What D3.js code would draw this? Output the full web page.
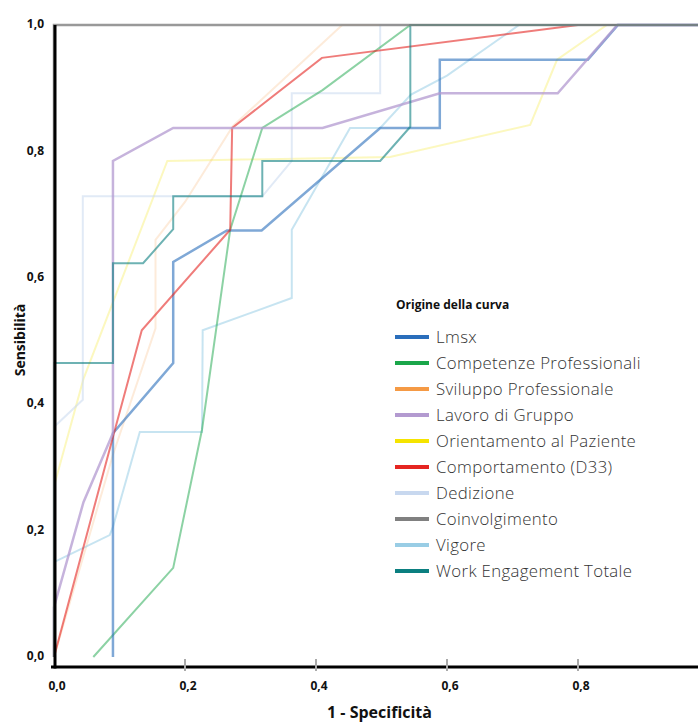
<!DOCTYPE html>
<html>
<head>
<meta charset="utf-8">
<script src="https://d3js.org/d3.v7.min.js"></script>
<style>
  body { margin: 0; background: #fff; }
  svg { display: block; font-family: 'Open Sans', 'Noto Sans', sans-serif; }
  .tick-label { font-size: 12px; font-weight: 700; fill: #111; }
  .axis-title { font-weight: 700; fill: #111; }
  .legend-title { font-size: 12px; font-weight: 700; fill: #111; }
  .legend-item { font-size: 16.8px; font-weight: 300; fill: #333; letter-spacing: 0.35px; }
</style>
</head>
<body>
<div id="chart"></div>
<script>
// curve names, in legend order
const seriesNames = [
  'Lmsx',
  'Competenze Professionali',
  'Sviluppo Professionale',
  'Lavoro di Gruppo',
  'Orientamento al Paziente',
  'Comportamento (D33)',
  'Dedizione',
  'Coinvolgimento',
  'Vigore',
  'Work Engagement Totale'
]
const seriesColors = ['#2a6ebb', '#1aa64a', '#f59a45', '#b39ad0', '#f5e400', '#e52521', '#c8d8ef', '#808080', '#99cde5', '#0b7f80']

// [1 - specificita, sensibilita] points
const lmsx = [[0.09, 0], [0.09, 0.354], [0.182, 0.465], [0.182, 0.625], [0.264, 0.675], [0.317, 0.675], [0.498, 0.837], [0.589, 0.837], [0.589, 0.945], [0.815, 0.945], [0.861, 1], [1, 1]]
const competenze = [[0.06, 0], [0.182, 0.141], [0.226, 0.36], [0.269, 0.676], [0.318, 0.837], [0.41, 0.897], [0.544, 1], [1, 1]]
const sviluppo = [[0, 0], [0.09, 0.32], [0.155, 0.52], [0.155, 0.66], [0.2, 0.72], [0.273, 0.84], [0.44, 1], [1, 1]]
const lavoro = [[0, 0], [0, 0.079], [0.045, 0.245], [0.09, 0.354], [0.09, 0.785], [0.182, 0.837], [0.41, 0.837], [0.589, 0.892], [0.769, 0.892], [0.86, 1], [1, 1]]
const orientamento = [[0, 0], [0, 0.27], [0.045, 0.44], [0.173, 0.785], [0.513, 0.791], [0.727, 0.842], [0.768, 0.945], [0.844, 1], [1, 1]]
const comportamento = [[0, 0], [0.09, 0.348], [0.134, 0.517], [0.269, 0.676], [0.272, 0.837], [0.409, 0.948], [0.8, 1], [1, 1]]
const dedizione = [[0, 0], [0, 0.364], [0.044, 0.407], [0.044, 0.729], [0.318, 0.729], [0.363, 0.785], [0.363, 0.892], [0.498, 0.892], [0.498, 1], [1, 1]]
const coinvolgimento = [[0, 0], [0, 1], [1, 1]]
const vigore = [[0, 0], [0, 0.15], [0.085, 0.193], [0.09, 0.206], [0.131, 0.356], [0.226, 0.356], [0.227, 0.517], [0.363, 0.568], [0.363, 0.676], [0.452, 0.837], [0.498, 0.837], [0.545, 0.89], [0.6, 0.92], [0.71, 1], [1, 1]]
const workEngagement = [[0, 0], [0, 0.465], [0.09, 0.465], [0.09, 0.623], [0.136, 0.623], [0.182, 0.677], [0.182, 0.729], [0.318, 0.729], [0.318, 0.785], [0.498, 0.785], [0.544, 0.839], [0.544, 1], [1, 1]]

const seriesPoints = [lmsx, competenze, sviluppo, lavoro, orientamento, comportamento, dedizione, coinvolgimento, vigore, workEngagement]
const seriesOpacity = [0.6, 0.5, 0.2, 0.75, 0.25, 0.6, 0.55, 0.8, 0.55, 0.6]
const seriesWidth = [2.5, 2, 2, 2.5, 2, 2, 2, 2.5, 2, 2]
// faint curves go underneath
const drawOrder = [2, 4, 6, 8, 1, 0, 5, 3, 9, 7]

const xTicks = [0, 0.2, 0.4, 0.6, 0.8]
const yTicks = [0, 0.2, 0.4, 0.6, 0.8, 1]

const width = 698
const height = 722

const locale = d3.formatLocale({ decimal: ',', thousands: '.', grouping: [3], currency: ['', ''] })
const fmt = locale.format('.1f')

const x = d3.scaleLinear().domain([0, 1]).range([54, 709])
const y = d3.scaleLinear().domain([0, 1]).range([657, 25])
const axisY = 667
const axisX = 55

const svg = d3.select('#chart')
  .append('svg')
  .attr('width', width)
  .attr('height', height)

// curves
const line = d3.line()
  .x((d) => x(d[0]))
  .y((d) => y(d[1]))

svg.append('g')
  .selectAll('path')
  .data(drawOrder)
  .enter()
  .append('path')
  .attr('d', (i) => line(seriesPoints[i]))
  .attr('fill', 'none')
  .attr('stroke', (i) => seriesColors[i])
  .attr('stroke-opacity', (i) => seriesOpacity[i])
  .attr('stroke-width', (i) => seriesWidth[i])

// axes lines
svg.append('line')
  .attr('x1', axisX).attr('x2', axisX)
  .attr('y1', y(1)).attr('y2', axisY + 1.5)
  .attr('stroke', '#000')
  .attr('stroke-width', 3)

svg.append('line')
  .attr('x1', axisX - 4).attr('x2', width)
  .attr('y1', axisY).attr('y2', axisY)
  .attr('stroke', '#000')
  .attr('stroke-width', 3)

svg.append('g')
  .selectAll('line')
  .data(xTicks.filter((d) => d > 0))
  .enter()
  .append('line')
  .attr('x1', (d) => x(d)).attr('x2', (d) => x(d))
  .attr('y1', axisY - 8).attr('y2', axisY + 4)
  .attr('stroke', '#aaa')
  .attr('stroke-width', 2)

// tick labels
svg.append('g')
  .selectAll('text')
  .data(xTicks)
  .enter()
  .append('text')
  .attr('class', 'tick-label')
  .attr('x', (d) => x(d) + 3)
  .attr('y', 690)
  .attr('text-anchor', 'middle')
  .text((d) => fmt(d))

svg.append('g')
  .selectAll('text')
  .data(yTicks)
  .enter()
  .append('text')
  .attr('class', 'tick-label')
  .attr('x', 44)
  .attr('y', (d) => y(d) - 1)
  .attr('dy', '0.35em')
  .attr('text-anchor', 'end')
  .text((d) => fmt(d))

// axis titles
svg.append('text')
  .attr('class', 'axis-title')
  .attr('x', x(0.5) - 2)
  .attr('y', 718)
  .attr('text-anchor', 'middle')
  .style('font-size', '16px')
  .text('1 - Specificità')

svg.append('text')
  .attr('class', 'axis-title')
  .attr('transform', `translate(${25}, ${340}) rotate(-90)`)
  .attr('text-anchor', 'middle')
  .style('font-size', '14px')
  .text('Sensibilità')

// legend
const legend = svg.append('g').attr('transform', `translate(${395}, ${309})`)

legend.append('text')
  .attr('class', 'legend-title')
  .attr('x', 1)
  .attr('y', 0)
  .text('Origine della curva')

const rows = legend.selectAll('g.row')
  .data(seriesNames)
  .enter()
  .append('g')
  .attr('class', 'row')
  .attr('transform', (d, i) => `translate(0, ${28 + i * 26})`)

rows.append('line')
  .attr('x1', 0).attr('x2', 34)
  .attr('y1', 0).attr('y2', 0)
  .attr('stroke', (d, i) => seriesColors[i])
  .attr('stroke-width', 4)

rows.append('text')
  .attr('class', 'legend-item')
  .attr('x', 41)
  .attr('y', 0)
  .attr('dy', '0.35em')
  .text((d) => d)
</script>
</body>
</html>
